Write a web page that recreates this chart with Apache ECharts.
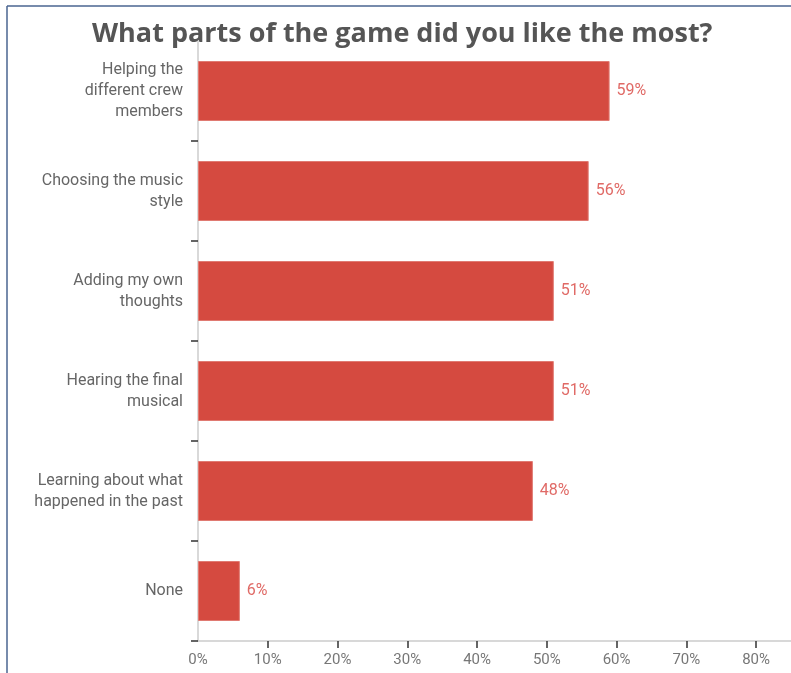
<!DOCTYPE html>
<html>
<head>
<meta charset="utf-8">
<script src="https://cdn.jsdelivr.net/npm/echarts@6/dist/echarts.min.js"></script>
<style>
  html, body { margin: 0; padding: 0; background: #ffffff; }
  #chart { width: 791px; height: 673px; }
</style>
</head>
<body>
<div id="chart"></div>
<script>
// data
const categories = [
  "Helping the\ndifferent crew\nmembers",
  "Choosing the music\nstyle",
  "Adding my own\nthoughts",
  "Hearing the final\nmusical",
  "Learning about what\nhappened in the past",
  "None"
];
const percentValues = [59, 56, 51, 51, 48, 6];
const tickValues = [0, 10, 20, 30, 40, 50, 60, 70, 80];

const myChart = echarts.init(document.getElementById("chart"));

const option = {
  animation: false,
  title: {
    text: "What parts of the game did you like the most?",
    left: 87,
    top: 16,
    textStyle: {
      fontFamily: "Open Sans",
      fontWeight: "bold",
      fontSize: 27,
      color: "#555555"
    }
  },
  graphic: [
    // the frame edges seen at top and left
    { type: "line", shape: { x1: 7, y1: 6, x2: 791, y2: 6 }, style: { stroke: "#4a6590", lineWidth: 1.5 } },
    { type: "line", shape: { x1: 7, y1: 6, x2: 7, y2: 673 }, style: { stroke: "#4a6590", lineWidth: 1.5 } }
  ],
  grid: { left: 198, right: 0, top: 41, bottom: 32 },
  xAxis: [
    {
      type: "value",
      min: 0,
      max: 85,
      interval: 10,
      splitLine: { show: false },
      axisLine: { show: true, lineStyle: { color: "#cccccc", width: 1.5 } },
      axisTick: {
        show: true,
        length: 7,
        customValues: tickValues.slice(1),
        lineStyle: { color: "#333333", width: 1.5 }
      },
      axisLabel: {
        customValues: tickValues,
        formatter: v => v + "%",
        color: "#777777",
        fontFamily: "Roboto",
        fontSize: 15,
        margin: 12
      }
    },
    {
      // tick-only copy of the value axis, so the dark tick marks always draw
      type: "value",
      position: "bottom",
      min: 0,
      max: 85,
      interval: 10,
      splitLine: { show: false },
      axisLine: { show: false },
      axisLabel: { show: false },
      axisTick: {
        show: true,
        length: 7,
        customValues: tickValues.slice(1),
        lineStyle: { color: "#333333", width: 1.5 }
      }
    }
  ],
  yAxis: {
    type: "category",
    inverse: true,
    data: categories,
    axisLine: { show: true, lineStyle: { color: "#cccccc", width: 1.5 } },
    // dashes between categories only, not above the first one
    axisTick: {
      show: true,
      length: 7,
      interval: (i) => i > 0,
      lineStyle: { color: "#333333", width: 1.5 }
    },
    axisLabel: {
      color: "#666666",
      fontFamily: "Roboto",
      fontSize: 16,
      lineHeight: 21,
      margin: 15,
      align: "right"
    }
  },
  series: [
    {
      type: "bar",
      xAxisIndex: 0,
      data: percentValues,
      barCategoryGap: "40%",
      itemStyle: { color: "#d54a40", borderColor: "#e07a72", borderWidth: 1 },
      label: {
        show: true,
        position: "right",
        distance: 7,
        formatter: p => p.value + "%",
        color: "#e06a66",
        fontFamily: "Roboto",
        fontSize: 16
      }
    }
  ]
};

myChart.setOption(option);
</script>
</body>
</html>
